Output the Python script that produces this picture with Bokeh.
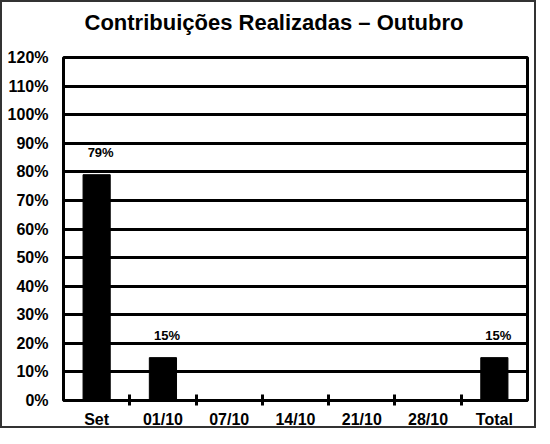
from bokeh.plotting import figure
from bokeh.models import ColumnDataSource, FixedTicker, Range1d, Title
from bokeh.core.properties import value
from bokeh.embed import file_html
from bokeh.resources import INLINE

# ---- data ----
categories = ["Set", "01/10", "07/10", "14/10", "21/10", "28/10", "Total"]
values = [79, 15, None, None, None, None, 15]
y_ticks = [0, 10, 20, 30, 40, 50, 60, 70, 80, 90, 100, 110, 120]
y_tick_labels = ["0%", "10%", "20%", "30%", "40%", "50%", "60%", "70%", "80%",
                 "90%", "100%", "110%", "120%"]
title_text = "Contribuições Realizadas – Outubro"

FONT = "Liberation Sans"

centers = [i + 0.5 for i in range(len(categories))]
boundaries = [i for i in range(1, len(categories))]

idx = [i for i, v in enumerate(values) if v is not None]
src = ColumnDataSource(dict(
    x=[centers[i] for i in idx],
    top=[values[i] for i in idx],
    ly=[values[i] + 5 for i in idx],
    label=[f"{values[i]}%" for i in idx],
))

p = figure(width=536, height=428, output_backend="svg", toolbar_location=None,
           title=None,
           x_range=Range1d(0, len(categories)), y_range=Range1d(0, 120),
           min_border_left=61, min_border_right=11, min_border_top=52,
           min_border_bottom=24)
# spacer between title and frame, then the title itself
p.add_layout(Title(text=" ", text_font_size="14px", standoff=0), "above")
p.add_layout(Title(text=title_text, align="left", offset=21,
                   text_font=FONT, text_font_size="22px",
                   text_font_style="bold", text_color="black"), "above")

p.vbar(x="x", top="top", width=0.41, bottom=0, source=src,
       fill_color="black", line_color="black")
p.text(x="x", y="ly", text="label", source=src, text_align="center",
       text_baseline="bottom", x_offset=4, text_font=value(FONT),
       text_font_size="13px", text_font_style="bold", text_color="black")

# frame / grid
p.outline_line_color = "black"
p.outline_line_width = 3
p.outline_line_alpha = 1
p.xgrid.visible = False
p.ygrid.ticker = FixedTicker(ticks=y_ticks)
p.ygrid.grid_line_color = "black"
p.ygrid.grid_line_width = 3
p.ygrid.grid_line_alpha = 1

# y axis
ya = p.yaxis[0]
ya.ticker = FixedTicker(ticks=y_ticks)
ya.major_label_overrides = {t: l for t, l in zip(y_ticks, y_tick_labels)}
ya.axis_line_color = None
ya.major_tick_line_color = None
ya.major_tick_in = 0
ya.major_tick_out = 0
ya.minor_tick_line_color = None
ya.major_label_standoff = 15
ya.major_label_text_font = FONT
ya.major_label_text_font_size = "16px"
ya.major_label_text_font_style = "bold"
ya.major_label_text_color = "black"

# x axis
xa = p.xaxis[0]
xa.ticker = FixedTicker(ticks=centers, minor_ticks=boundaries)
xa.major_label_overrides = {c: l for c, l in zip(centers, categories)}
xa.axis_line_color = "black"
xa.axis_line_width = 3
xa.major_tick_line_color = None
xa.major_tick_in = 0
xa.major_tick_out = 0
xa.minor_tick_line_color = "black"
xa.minor_tick_line_width = 3
xa.minor_tick_in = 6
xa.minor_tick_out = 5
xa.major_label_standoff = 5
xa.major_label_text_font = FONT
xa.major_label_text_font_size = "16px"
xa.major_label_text_font_style = "bold"
xa.major_label_text_color = "black"

p.background_fill_color = "white"
p.border_fill_color = "white"
p.styles = {"border": "2px solid #333333"}

open("out.html", "w").write(file_html(p, INLINE))
